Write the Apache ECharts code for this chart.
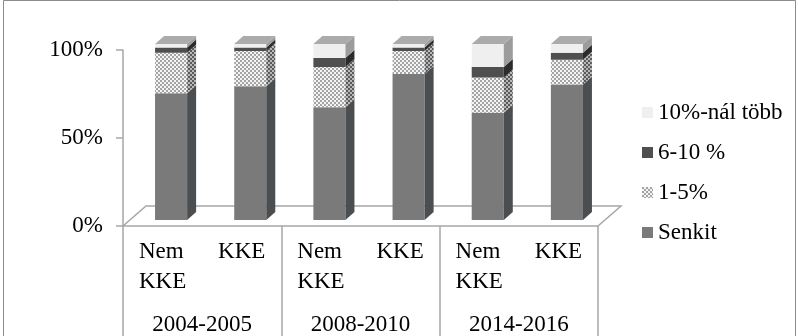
<!DOCTYPE html>
<html>
<head>
<meta charset="utf-8">
<script src="https://cdn.jsdelivr.net/npm/echarts@6/dist/echarts.min.js"></script>
<style>
  html, body { margin: 0; padding: 0; background: #fff; }
  #chart { width: 798px; height: 336px; }
</style>
</head>
<body>
<div id="chart"></div>
<script>
// Categories (inner level) and periods (outer level)
const categories = ['Nem KKE', 'KKE', 'Nem KKE', 'KKE', 'Nem KKE', 'KKE'];
const periods = ['2004-2005', '2008-2010', '2014-2016'];

// Share of respondents (%) per answer, stacked bottom to top
const senkit = [72, 76, 64, 83, 61, 77];
const egyOt = [23, 20, 23, 13, 20, 14];
const hatTiz = [3, 2, 5, 2, 6, 4];
const tizFelett = [2, 2, 8, 2, 13, 5];

const seriesNames = ['Senkit', '1-5%', '6-10 %', '10%-nál több'];
const legendOrder = ['10%-nál több', '6-10 %', '1-5%', 'Senkit'];
const yTickStep = 50;

const FONT = "'Liberation Serif', 'Times New Roman', serif";
const FS = 23;
const LINE = '#a6a6a6';

// Layout of the plotting plane
const G = { left: 123, right: 200, top: 50, bottom: 110 };
const W = 798, H = 336;
// Bar placement inside the 3D box: front-face shift and depth vector
const FRONT_DX = 8.5, FRONT_DY = -6;
const DEPTH_DX = 9, DEPTH_DY = -8;
const FLOOR_DX = 23, FLOOR_DY = -20;

function checker(bg, dot) {
  const c = document.createElement('canvas');
  c.width = 4; c.height = 4;
  const g = c.getContext('2d');
  g.fillStyle = bg; g.fillRect(0, 0, 4, 4);
  g.fillStyle = dot; g.fillRect(0, 0, 2, 2); g.fillRect(2, 2, 2, 2);
  return { image: c, repeat: 'repeat' };
}

const faces = [
  { front: '#7a7a7a', side: '#4b4e50' },
  { front: checker('#f4f4f4', '#a4a4a4'), side: checker('#b8b8b8', '#5a5a5a') },
  { front: '#4f4f4f', side: '#2b2b2b' },
  { front: '#efefef', side: '#9c9c9c' }
];
const TOP_FACE = '#ababab';

const layers = [senkit, egyOt, hatTiz, tizFelett];

function buildItems(li) {
  return categories.map((_, i) => {
    let lo = 0;
    for (let k = 0; k < li; k++) lo += layers[k][i];
    return [i, lo, lo + layers[li][i]];
  });
}

function makeRender(li) {
  const isTop = li === layers.length - 1;
  return function (params, api) {
    const idx = api.value(0);
    const pLo = api.coord([idx, api.value(1)]);
    const pHi = api.coord([idx, api.value(2)]);
    const w = api.size([1, 0])[0] * 0.405;
    const x0 = pLo[0] - w / 2 + FRONT_DX;
    const x1 = x0 + w;
    const yLo = pLo[1] + FRONT_DY;
    const yHi = pHi[1] + FRONT_DY;
    const children = [
      {
        type: 'rect',
        shape: { x: x0, y: yHi, width: w, height: yLo - yHi },
        style: { fill: faces[li].front }
      },
      {
        type: 'polygon',
        shape: { points: [[x1, yLo], [x1 + DEPTH_DX, yLo + DEPTH_DY], [x1 + DEPTH_DX, yHi + DEPTH_DY], [x1, yHi]] },
        style: { fill: faces[li].side }
      }
    ];
    if (isTop) {
      children.push({
        type: 'polygon',
        shape: { points: [[x0, yHi], [x1, yHi], [x1 + DEPTH_DX, yHi + DEPTH_DY], [x0 + DEPTH_DX, yHi + DEPTH_DY]] },
        style: { fill: TOP_FACE }
      });
    }
    return { type: 'group', children: children };
  };
}

const chart = echarts.init(document.getElementById('chart'), null, { renderer: 'canvas' });

// Floor of the 3D plot area
const floorY = H - G.bottom;
const xL = G.left, xR = W - G.right;

chart.setOption({
  animation: false,
  backgroundColor: '#ffffff',
  textStyle: { fontFamily: FONT, color: '#000' },
  grid: [
    { left: G.left, right: G.right, top: G.top, bottom: G.bottom },
    { left: G.left, right: G.right, top: H - G.bottom, bottom: 0 }
  ],
  legend: {
    orient: 'vertical',
    left: 637,
    top: 96,
    itemGap: 17,
    itemWidth: 11,
    itemHeight: 11,
    icon: 'rect',
    data: legendOrder,
    textStyle: { fontFamily: FONT, fontSize: FS, color: '#000' }
  },
  xAxis: [
    {
      type: 'category',
      gridIndex: 0,
      data: categories,
      boundaryGap: true,
      axisLine: { show: true, lineStyle: { color: LINE, width: 1.5 } },
      axisTick: { show: false },
      axisLabel: {
        interval: 0,
        margin: 11,
        formatter: v => v.split(' ').map(s => '{a|' + s + '}').join('\n'),
        rich: { a: { fontFamily: FONT, fontSize: FS, lineHeight: 30, color: '#000', align: 'left' } }
      }
    },
    {
      type: 'category',
      gridIndex: 1,
      position: 'top',
      data: periods,
      boundaryGap: true,
      axisLine: { show: false },
      axisTick: { show: false },
      splitLine: { show: true, interval: 0, lineStyle: { color: LINE, width: 1.5 } },
      axisLabel: { inside: true, interval: 0, margin: 87, fontFamily: FONT, fontSize: FS, color: '#000' }
    }
  ],
  yAxis: [
    {
      type: 'value',
      gridIndex: 0,
      min: 0,
      max: 100,
      interval: yTickStep,
      axisLine: { show: true, lineStyle: { color: LINE, width: 1.5 } },
      axisTick: { show: true, length: 7, lineStyle: { color: LINE, width: 1.5 } },
      splitLine: { show: false },
      axisLabel: { formatter: '{value}%', margin: 20, fontFamily: FONT, fontSize: FS, color: '#000' }
    },
    { type: 'value', gridIndex: 1, show: false }
  ],
  graphic: [
    {
      type: 'rect',
      shape: { x: 3.5, y: 0.5, width: W - 6, height: H + 20 },
      style: { fill: 'none', stroke: '#8c8c8c', lineWidth: 1 },
      silent: true
    },
    {
      type: 'polyline',
      shape: { points: [[xL, floorY], [xL + FLOOR_DX, floorY + FLOOR_DY], [xR + FLOOR_DX, floorY + FLOOR_DY], [xR, floorY]] },
      style: { fill: 'none', stroke: LINE, lineWidth: 1.5 },
      z: 0,
      silent: true
    }
  ],
  series: seriesNames.map((name, li) => ({
    name: name,
    type: 'custom',
    xAxisIndex: 0,
    yAxisIndex: 0,
    itemStyle: { color: faces[li].front },
    renderItem: makeRender(li),
    encode: { x: 0, y: [1, 2] },
    data: buildItems(li),
    z: 2
  }))
});
</script>
</body>
</html>
